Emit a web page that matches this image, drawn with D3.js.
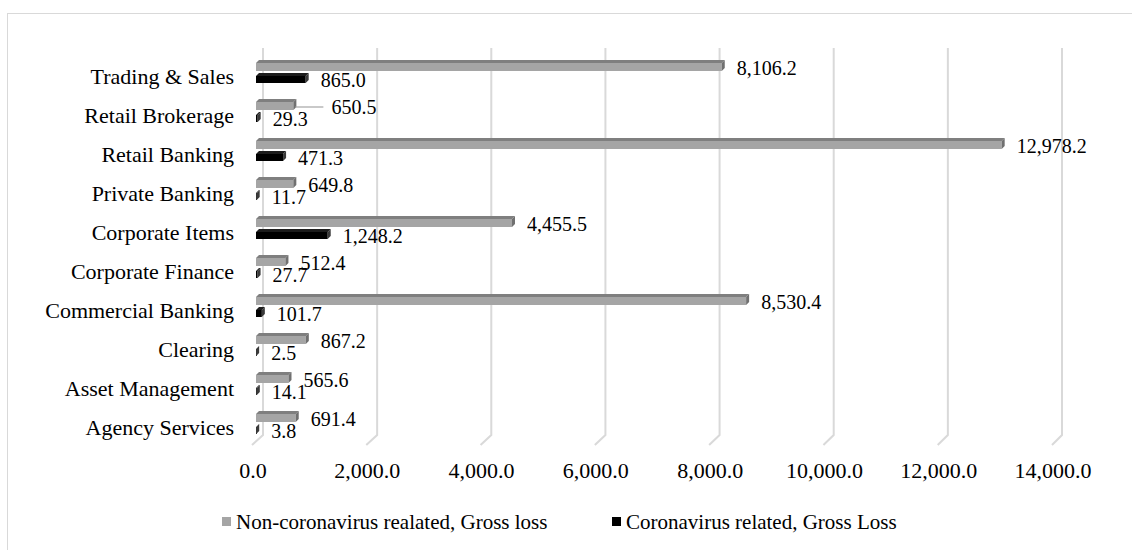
<!DOCTYPE html>
<html>
<head>
<meta charset="utf-8">
<script src="https://cdn.jsdelivr.net/npm/d3@7"></script>
<style>
  html, body { margin: 0; padding: 0; background: #fff; }
  svg, svg text { font-family: 'Liberation Serif', 'Times New Roman', 'DejaVu Serif', serif; }
</style>
</head>
<body>
<svg id="chart" width="1132" height="550"></svg>
<script>
// ---- data ----
const categories = ["Trading & Sales", "Retail Brokerage", "Retail Banking", "Private Banking",
  "Corporate Items", "Corporate Finance", "Commercial Banking", "Clearing",
  "Asset Management", "Agency Services"];
const nonCovidLoss = [8106.2, 650.5, 12978.2, 649.8, 4455.5, 512.4, 8530.4, 867.2, 565.6, 691.4];
const covidLoss = [865.0, 29.3, 471.3, 11.7, 1248.2, 27.7, 101.7, 2.5, 14.1, 3.8];
const tickValues = [0, 2000, 4000, 6000, 8000, 10000, 12000, 14000];
const seriesNames = ["Non-coronavirus realated, Gross loss", "Coronavirus related, Gross Loss"];
const leaderLabelCats = ["Retail Brokerage"];

// ---- layout ----
const FONT = "'Liberation Serif', 'Times New Roman', 'DejaVu Serif', serif";
const svg = d3.select("#chart").attr("font-family", FONT);
const fmt = d3.format(",.1f");
const domainX = [0, 14000];
const xBar = d3.scaleLinear().domain(domainX).range([256, 1060.4]);
const xBack = d3.scaleLinear().domain(domainX).range([263, 1062]);
const xFront = d3.scaleLinear().domain(domainX).range([253, 1053]);
const y = d3.scaleBand().domain(categories).range([56.5, 446.5]);
const depth = 3;

// chart border
svg.append("rect").attr("x", 7.5).attr("y", 13.5).attr("width", 1200).attr("height", 600)
  .attr("fill", "none").attr("stroke", "#d9d9d9").attr("stroke-width", 1);

// gridlines (3D wall + floor edge)
const gridTop = 48, gridBottom = 435, floorDepth = 10;
svg.append("g").selectAll("path").data(tickValues).join("path")
  .attr("d", v => `M${xBack(v)},${gridTop} L${xBack(v)},${gridBottom} L${xFront(v) - 1},${gridBottom + floorDepth}`)
  .attr("fill", "none").attr("stroke", "#d9d9d9").attr("stroke-width", 2);

// tick labels
svg.append("g").selectAll("text").data(tickValues).join("text")
  .attr("x", v => xFront(v)).attr("y", 478)
  .attr("text-anchor", "middle").attr("font-size", 22).attr("fill", "#000")
  .text(v => fmt(v));

// category labels
svg.append("g").selectAll("text").data(categories).join("text")
  .attr("x", 234).attr("y", c => y(c) + y.bandwidth() / 2)
  .attr("dy", "0.35em").attr("text-anchor", "end").attr("font-size", 22).attr("fill", "#000")
  .text(c => c);

// 3D bar drawing
function bar3d(g, x1, top, bottom, colors) {
  const x0 = xBar(0);
  g.append("rect").attr("x", x0).attr("y", top + depth)
    .attr("width", Math.max(0.8, x1 - x0)).attr("height", bottom - top - depth).attr("fill", colors.front);
  g.append("path").attr("d", `M${x0},${top + depth} L${x0 + depth},${top} L${x1 + depth},${top} L${x1},${top + depth} Z`)
    .attr("fill", colors.top);
  g.append("path").attr("d", `M${x1},${top + depth} L${x1 + depth},${top} L${x1 + depth},${bottom - depth} L${x1},${bottom} Z`)
    .attr("fill", colors.side);
}
const grayC = { front: "#a5a5a5", top: "#7f7f7f", side: "#707070" };
const blackC = { front: "#000000", top: "#1c1c1c", side: "#3a3a3a" };

const barsG = svg.append("g");
categories.forEach((c, i) => {
  const yc = y(c) + y.bandwidth() / 2;
  bar3d(barsG, xBar(nonCovidLoss[i]), yc - 16, yc - 5, grayC);
  bar3d(barsG, xBar(covidLoss[i]), yc - 3, yc + 7, blackC);
});

// data labels
const lblG = svg.append("g").attr("font-size", 20).attr("fill", "#000");
categories.forEach((c, i) => {
  const yc = y(c) + y.bandwidth() / 2;
  const gEnd = xBar(nonCovidLoss[i]) + depth;
  let gx = gEnd + 12;
  if (leaderLabelCats.includes(c)) {
    gx = gEnd + 35;
    lblG.append("line").attr("x1", gEnd - 1).attr("x2", gEnd + 27)
      .attr("y1", yc - 8).attr("y2", yc - 8).attr("stroke", "#a5a5a5").attr("stroke-width", 1.2);
  }
  lblG.append("text").attr("x", gx).attr("y", yc - 8).attr("dy", "0.35em").text(fmt(nonCovidLoss[i]));
  lblG.append("text").attr("x", xBar(covidLoss[i]) + depth + 12).attr("y", yc + 4).attr("dy", "0.35em").text(fmt(covidLoss[i]));
});

// legend
const legend = svg.append("g").attr("font-size", 21);
const legendX = [222, 612];
const legendColors = ["#a5a5a5", "#000000"];
seriesNames.forEach((s, i) => {
  legend.append("rect").attr("x", legendX[i]).attr("y", 517).attr("width", 9).attr("height", 9).attr("fill", legendColors[i]);
  legend.append("text").attr("x", legendX[i] + 14).attr("y", 522).attr("dy", "0.35em").text(s);
});
</script>
</body>
</html>
